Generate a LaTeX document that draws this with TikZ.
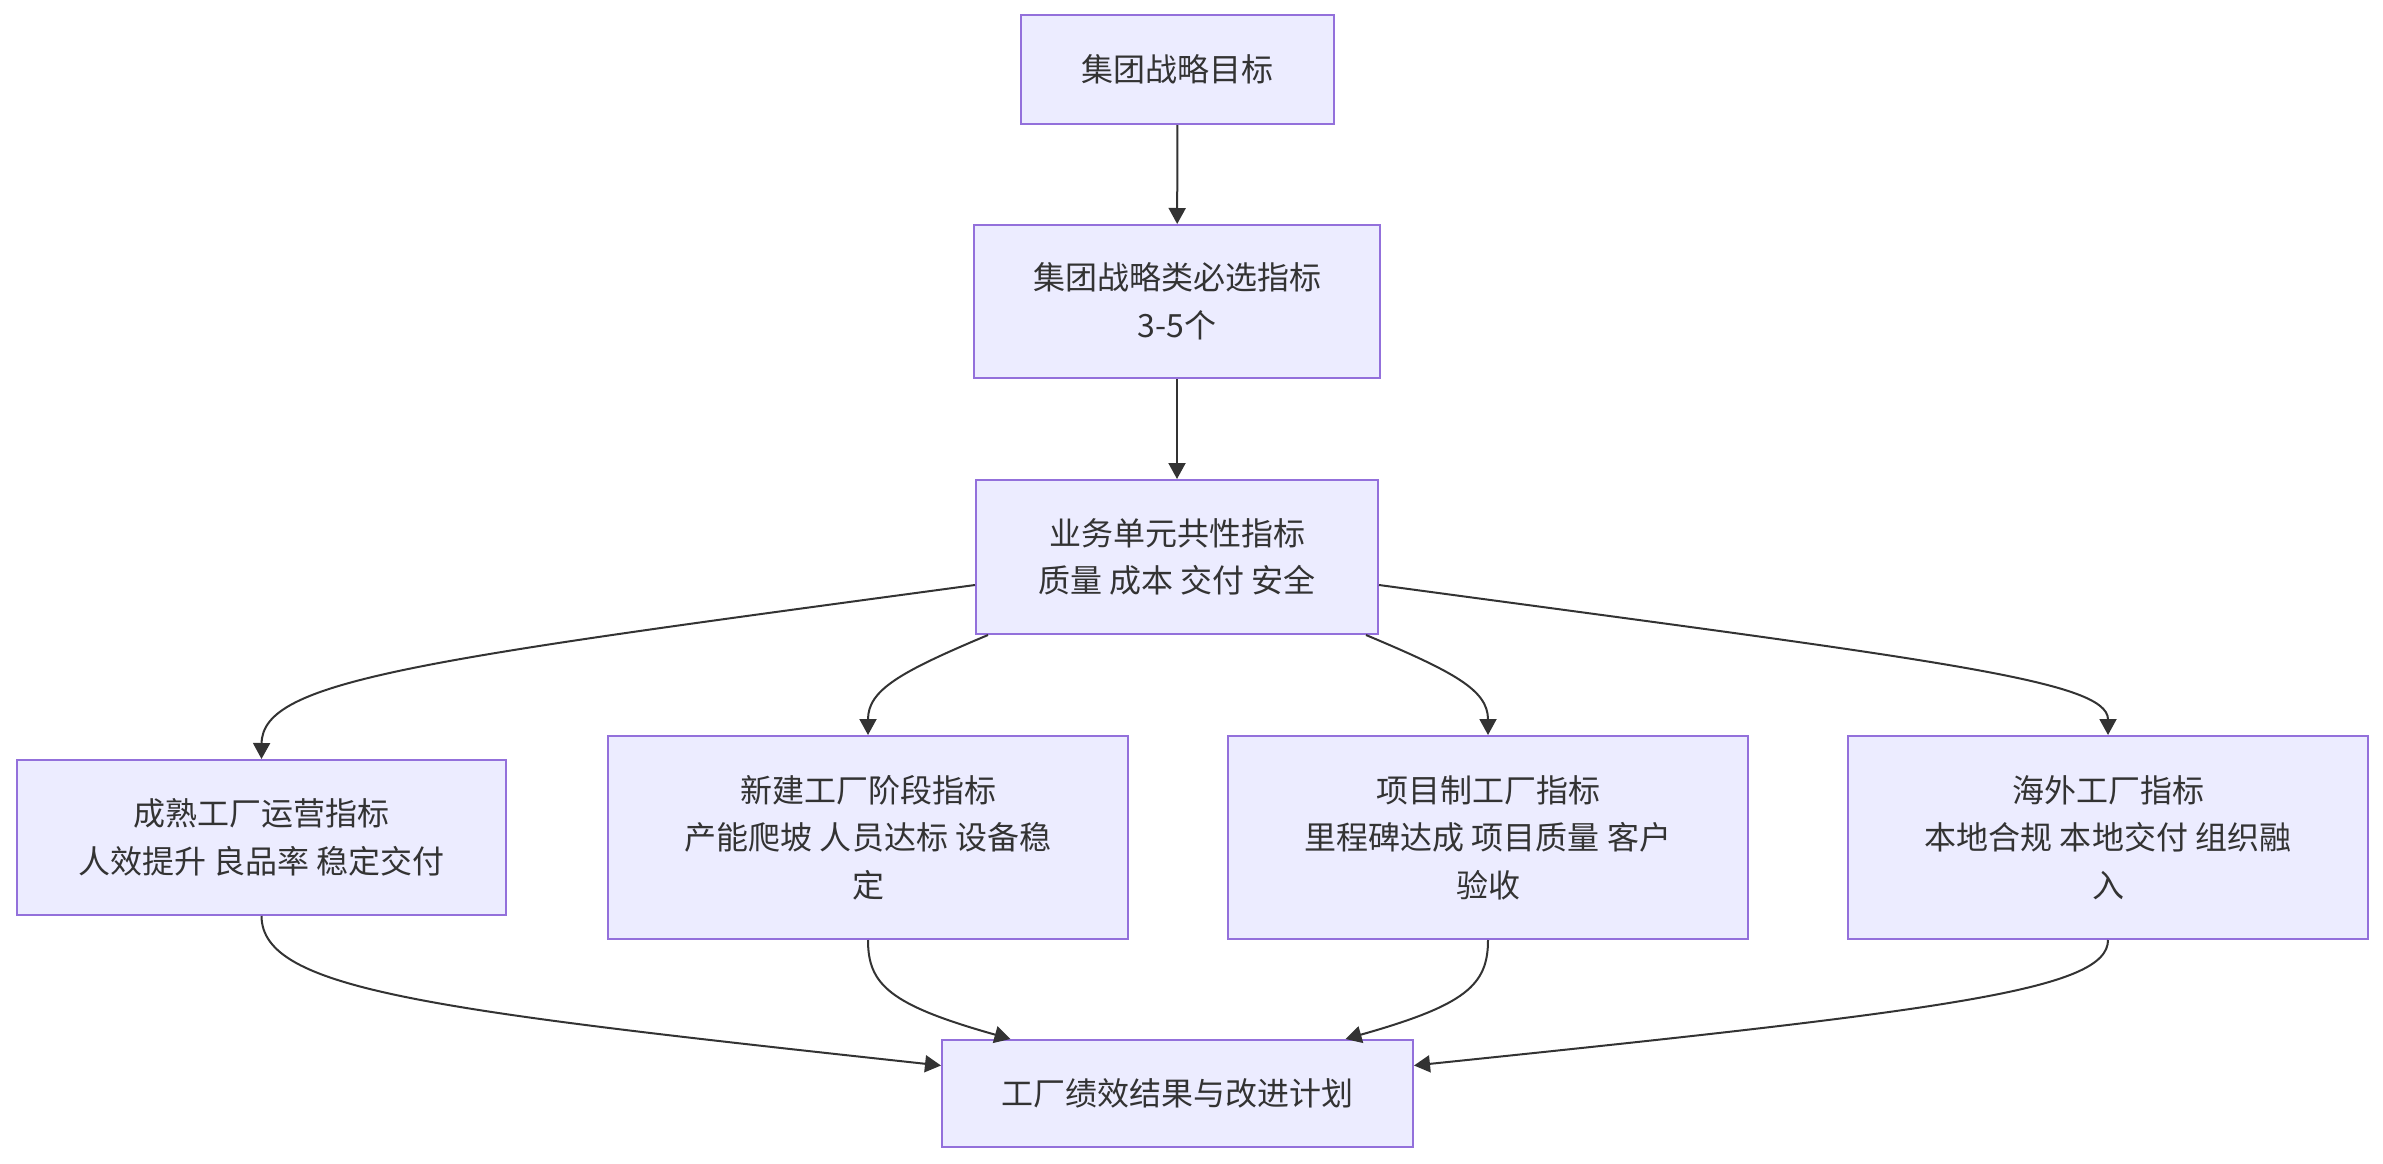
\documentclass[tikz,border=0pt]{standalone}
\usepackage{fontspec}
\setmainfont{Noto Sans CJK SC}
\usetikzlibrary{arrows.meta}
\definecolor{boxFill}{HTML}{ECECFF}
\definecolor{boxLine}{HTML}{9370DB}
\definecolor{inkGray}{HTML}{333333}

\begin{document}
\begin{tikzpicture}[x=1pt,y=-1pt,
  box/.style={draw=boxLine,fill=boxFill,line width=2pt,inner sep=0pt,align=center,
    text=inkGray,font=\fontsize{32}{47.5}\selectfont},
  flow/.style={draw=inkGray,line width=2pt,-{Triangle[length=16pt,width=17pt]}}]
  \useasboundingbox (0,0) rectangle (2383,1164);
  % top chain
  \node[box,minimum width=313pt,minimum height=109pt] (goal) at (1177.5,69.5) {集团战略目标};
  \node[box,minimum width=406pt,minimum height=153pt] (select) at (1177,301.5) {集团战略类必选指标\\3-5个};
  \node[box,minimum width=402pt,minimum height=154pt] (common) at (1177,557) {业务单元共性指标\\质量 成本 交付 安全};
  % factory types
  \node[box,minimum width=489pt,minimum height=155pt] (mature) at (261.5,837.5) {成熟工厂运营指标\\人效提升 良品率 稳定交付};
  \node[box,minimum width=520pt,minimum height=203pt] (newbuild) at (868,837.5) {新建工厂阶段指标\\产能爬坡 人员达标 设备稳\\定};
  \node[box,minimum width=520pt,minimum height=203pt] (project) at (1488,837.5) {项目制工厂指标\\里程碑达成 项目质量 客户\\验收};
  \node[box,minimum width=520pt,minimum height=203pt] (overseas) at (2108,837.5) {海外工厂指标\\本地合规 本地交付 组织融\\入};
  \node[box,minimum width=471pt,minimum height=107pt] (result) at (1177.5,1093.5) {工厂绩效结果与改进计划};

  \draw[flow] (goal) -- (select);
  \draw[flow] (select) -- (common);
  % fan out
  \draw[flow] ([yshift=-28pt]common.west) .. controls (420,660) and (262,680) .. (mature.north);
  \draw[flow] ([xshift=-189pt]common.south) .. controls (900,672) and (868,690) .. (newbuild.north);
  \draw[flow] ([xshift=189pt]common.south) .. controls (1454,672) and (1488,690) .. (project.north);
  \draw[flow] ([yshift=-28pt]common.east) .. controls (1935,660) and (2108,680) .. (overseas.north);
  % fan in
  \draw[flow] (mature.south) .. controls (262,990) and (430,1010) .. ([yshift=28pt]result.west);
  \draw[flow] (newbuild.south) .. controls (868,985) and (890,1005) .. ([xshift=-167pt]result.north);
  \draw[flow] (project.south) .. controls (1488,985) and (1466,1005) .. ([xshift=168pt]result.north);
  \draw[flow] (overseas.south) .. controls (2108,990) and (1950,1010) .. ([yshift=28pt]result.east);
\end{tikzpicture}
\end{document}
